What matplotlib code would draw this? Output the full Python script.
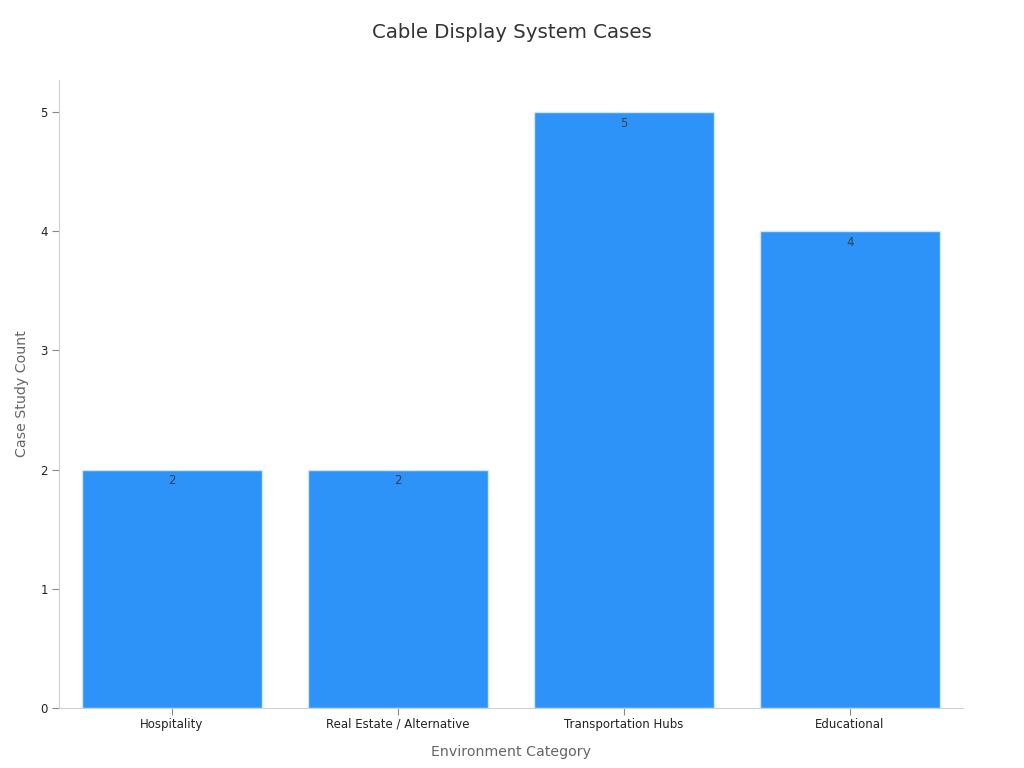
import matplotlib
matplotlib.use('Agg')
import matplotlib.pyplot as plt

categories = ['Hospitality', 'Real Estate / Alternative', 'Transportation Hubs', 'Educational']
counts = [2, 2, 5, 4]

plt.rcParams['font.family'] = ['DejaVu Sans']

fig = plt.figure(figsize=(10.24, 7.68), dpi=100)
ax = fig.add_axes([0.0576, 0.078, 0.8828, 0.818])

x = range(len(categories))
bars = ax.bar(x, counts, width=0.8, color='#2E93F9', edgecolor='#CFE6FD', linewidth=1)

for bar, v in zip(bars, counts):
    ax.text(bar.get_x() + bar.get_width() / 2, v - 0.04, str(v),
            ha='center', va='top', fontsize=8.5, color='#3A3F4A')

ax.set_xlim(-0.5, 3.5)
ax.set_ylim(0, 5.27)
ax.set_xticks(list(x))
ax.set_xticklabels(categories, fontsize=8.5, color='#222222')
ax.set_yticks([0, 1, 2, 3, 4, 5])
ax.tick_params(axis='y', labelsize=8.5, labelcolor='#222222', color='#888888', length=5, pad=3)
ax.tick_params(axis='x', color='#888888', length=5, pad=2)

for s in ['top', 'right']:
    ax.spines[s].set_visible(False)
for s in ['left', 'bottom']:
    ax.spines[s].set_color('#D0D0D0')

ax.set_xlabel('Environment Category', fontsize=10.2, color='#666666', labelpad=10)
ax.set_ylabel('Case Study Count', fontsize=10.2, color='#666666', labelpad=8)
fig.suptitle('Cable Display System Cases', fontsize=14.2, color='#333333', y=0.97)

plt.savefig('out.png', dpi=100)
plt.close()
